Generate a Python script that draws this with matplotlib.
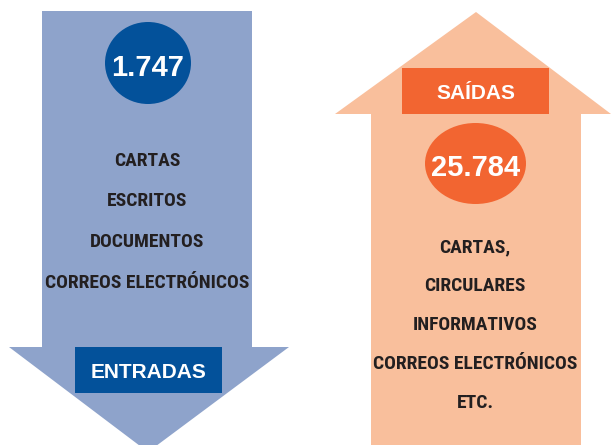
import matplotlib.pyplot as plt
from matplotlib.patches import Polygon, Rectangle, Ellipse

# data
entradas_total = "1.747"
entradas_label = "ENTRADAS"
entradas_items = ["CARTAS", "ESCRITOS", "DOCUMENTOS", "CORREOS ELECTRÓNICOS"]
saidas_total = "25.784"
saidas_label = "SAÍDAS"
saidas_items = ["CARTAS,", "CIRCULARES", "INFORMATIVOS", "CORREOS ELECTRÓNICOS", "ETC."]

light_blue = "#8ea3cb"
dark_blue = "#03519a"
peach = "#f9bf9c"
orange = "#f26531"
narrow = ["Roboto Condensed", "Liberation Sans"]
bold = ["Liberation Sans", "DejaVu Sans"]

fig = plt.figure(figsize=(6.11, 4.45), dpi=100)
ax = fig.add_axes([0, 0, 1, 1])
ax.set_xlim(0, 611)
ax.set_ylim(445, 0)
ax.axis("off")

# down arrow (entradas)
ax.add_patch(Polygon([(42, 11), (252, 11), (252, 347), (289, 347), (148, 452),
                      (9, 347), (42, 347)], closed=True, color=light_blue, lw=0))
ax.add_patch(Ellipse((148, 63), 86, 82, color=dark_blue, lw=0))
ax.text(148, 76, entradas_total, ha="center", va="baseline", color="white",
        fontsize=21, fontweight="bold", family=bold)
ax.add_patch(Rectangle((75, 347), 147, 46, color=dark_blue, lw=0))
ax.text(148.5, 378, entradas_label, ha="center", va="baseline", color="white",
        fontsize=15, fontweight="bold", family=bold)
for i, t in enumerate(entradas_items):
    ax.text(147, 166 + i * 40.5, t, ha="center", va="baseline", color="#231f20",
            fontsize=14, fontweight="bold", family=narrow)

# up arrow (saidas)
ax.add_patch(Polygon([(371, 445), (371, 114), (335, 114), (476, 12), (611, 114),
                      (581, 114), (581, 445)], closed=True, color=peach, lw=0))
ax.add_patch(Rectangle((402, 68), 147, 46, color=orange, lw=0))
ax.text(475.5, 99, saidas_label, ha="center", va="baseline", color="white",
        fontsize=15, fontweight="bold", family=bold)
ax.add_patch(Ellipse((475.5, 163.5), 101, 81, color=orange, lw=0))
ax.text(475.5, 176, saidas_total, ha="center", va="baseline", color="white",
        fontsize=21, fontweight="bold", family=bold)
for i, t in enumerate(saidas_items):
    ax.text(475, 252 + i * 39, t, ha="center", va="baseline", color="#231f20",
            fontsize=14, fontweight="bold", family=narrow)

fig.savefig("out.png", dpi=100)
